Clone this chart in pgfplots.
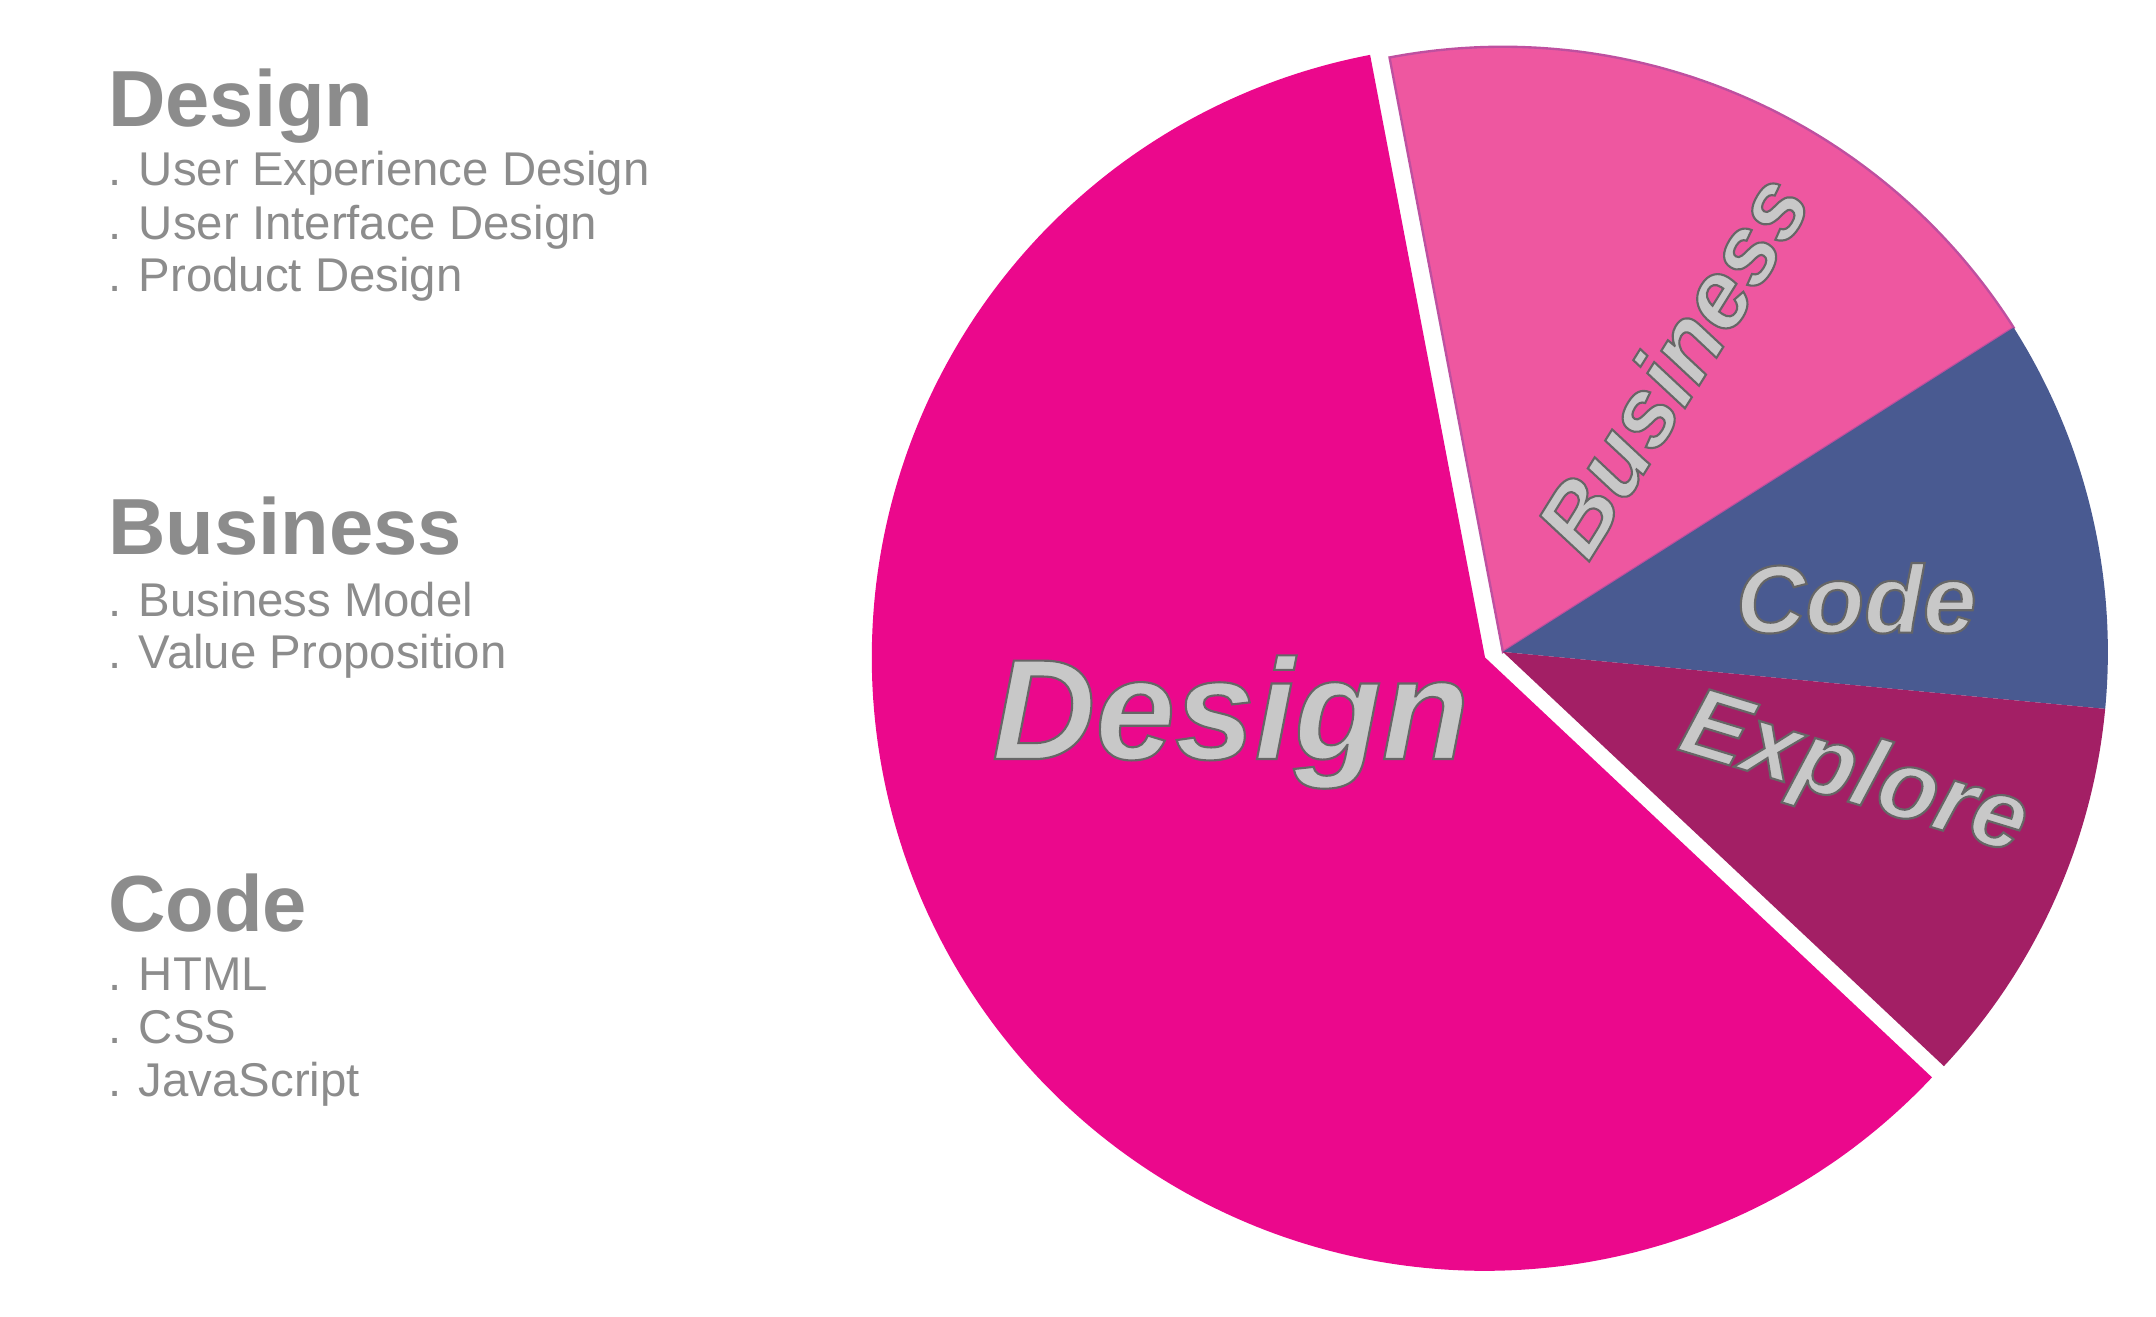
\documentclass[border=0pt]{standalone}
\usepackage{pgfplots}
\pgfplotsset{compat=1.18}
\usepackage{fontspec}
\setmainfont{Liberation Sans}
\definecolor{cDesign}{RGB}{235,8,140}
\definecolor{cBusiness}{RGB}{238,87,160}
\definecolor{cBusEdge}{RGB}{190,80,160}
\definecolor{cCode}{RGB}{73,90,145}
\definecolor{cExplore}{RGB}{163,31,101}
\definecolor{txt}{RGB}{140,140,140}
\definecolor{lbl}{RGB}{200,200,200}
\newcommand{\outl}[1]{\special{pdf:code q 0.4 0.4 0.4 RG 2 Tr 0.45 w}#1\special{pdf:code Q}}
\newcommand{\lab}[4]{% #1 pos, #2 rotate, #3 size, #4 text
  \node[text=lbl,rotate=#2,font=\fontsize{#3}{#3}\selectfont\bfseries\itshape] at (axis cs:#1) {\outl{#4}};}
\begin{document}
\begin{tikzpicture}
\begin{axis}[width=16cm,height=9.768cm,scale only axis,
  xmin=0,xmax=1568,ymin=0,ymax=957,hide axis,clip=false]
% shares: Design 60, Business 19, Code 10.5, Explore 10.5 (start angle 100.8 deg)
% Business 19% = 68.4 deg
\addplot[fill=cBusiness,draw=cBusEdge,line width=0.5pt,domain=32.4:100.8,samples=120,variable=\t]
  ({1093+440*cos(t)},{483+440*sin(t)}) -- (axis cs:1093,483) -- cycle;
% Code 10.5% = 37.8 deg
\addplot[fill=cCode,draw=none,domain=-5.4:32.4,samples=80,variable=\t]
  ({1093+440*cos(t)},{483+440*sin(t)}) -- (axis cs:1093,483) -- cycle;
% Explore 10.5% = 37.8 deg
\addplot[fill=cExplore,draw=none,domain=-43.2:-5.4,samples=80,variable=\t]
  ({1093+440*cos(t)},{483+440*sin(t)}) -- (axis cs:1093,483) -- cycle;
% Design 60% = 216 deg (exploded)
\addplot[fill=cDesign,draw=none,domain=100.8:316.8,samples=240,variable=\t]
  ({1080+446*cos(t)},{479+446*sin(t)}) -- (axis cs:1080,479) -- cycle;
% slice labels
\lab{895,432}{0}{30.2}{Design}
\lab{1350,522}{0}{20.3}{Code}
\lab{1216,692}{58}{20.2}{Business}
\lab{1348,392}{-17}{20.5}{Explore}
% left description
\begin{scope}[every node/.style={inner sep=0pt,anchor=base west,text=txt}]
\node[font=\fontsize{16.8}{17}\selectfont\bfseries] at (axis cs:78,865) {Design};
\node[font=\fontsize{10}{10}\selectfont] at (axis cs:78,822) {. User Experience Design};
\node[font=\fontsize{10}{10}\selectfont] at (axis cs:78,783) {. User Interface Design};
\node[font=\fontsize{10}{10}\selectfont] at (axis cs:78,745) {. Product Design};
\node[font=\fontsize{16.8}{17}\selectfont\bfseries] at (axis cs:78,554) {Business};
\node[font=\fontsize{10}{10}\selectfont] at (axis cs:78,509) {. Business Model};
\node[font=\fontsize{10}{10}\selectfont] at (axis cs:78,471) {. Value Proposition};
\node[font=\fontsize{16.8}{17}\selectfont\bfseries] at (axis cs:78,280) {Code};
\node[font=\fontsize{10}{10}\selectfont] at (axis cs:78,237) {. HTML};
\node[font=\fontsize{10}{10}\selectfont] at (axis cs:78,198) {. CSS};
\node[font=\fontsize{10}{10}\selectfont] at (axis cs:78,160) {. JavaScript};
\end{scope}
\end{axis}
\pgfresetboundingbox
\useasboundingbox (current axis.south west) rectangle (current axis.north east);
\end{tikzpicture}
\end{document}
